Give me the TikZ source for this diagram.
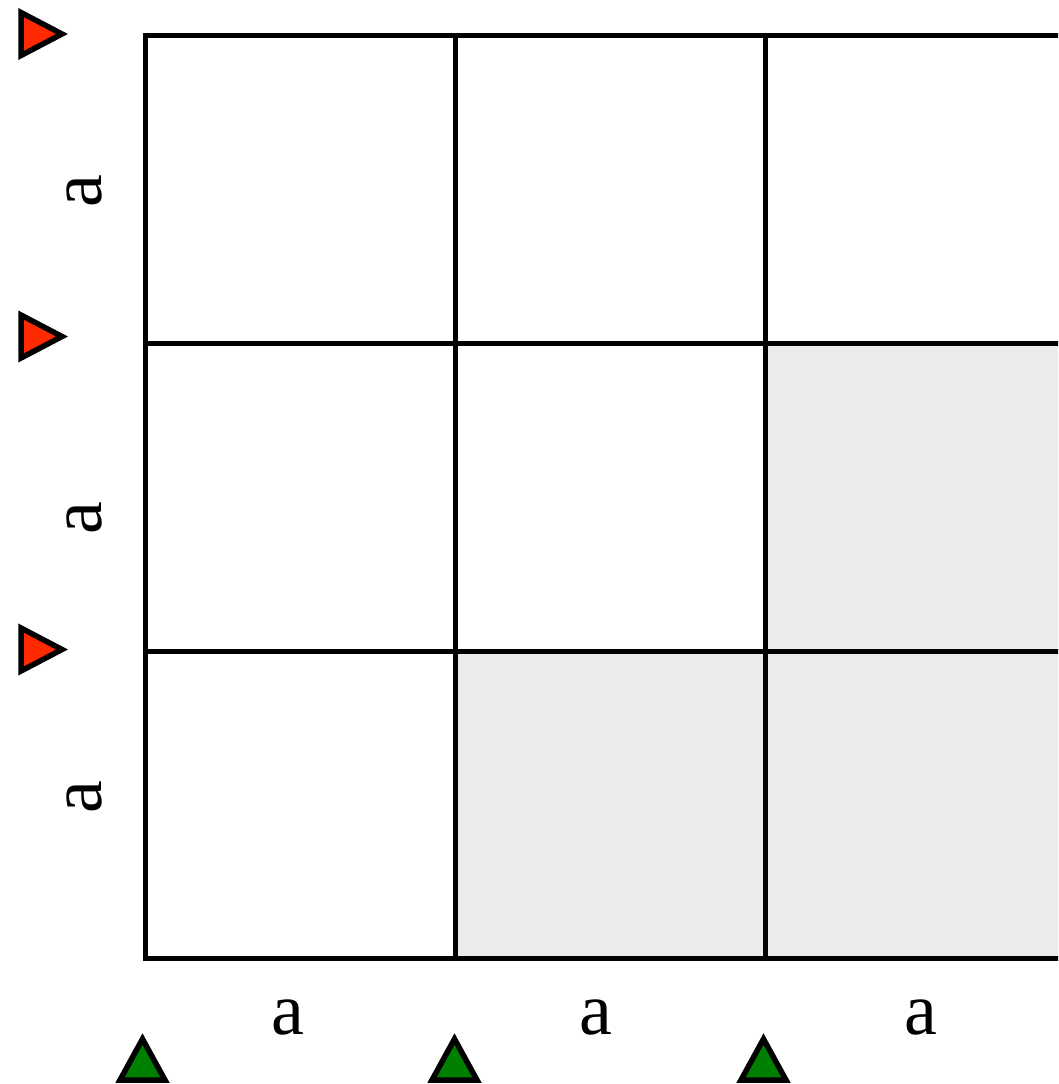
\documentclass[tikz,border=0pt]{standalone}
\usepackage{fontspec}
\setmainfont{Liberation Serif}
\definecolor{cellgray}{HTML}{EBEBEB}
\definecolor{markred}{HTML}{FF2A00}
\definecolor{markgreen}{HTML}{008000}
\begin{document}
\begin{tikzpicture}[x=1pt,y=-1pt,
  gridline/.style={line width=5pt, line cap=rect},
  redmark/.style={fill=markred, draw=black, line width=5.5pt},
  greenmark/.style={fill=markgreen, draw=black, line width=5.5pt},
  lbl/.style={inner sep=0pt, font=\fontsize{74}{80}\selectfont}]
\useasboundingbox (0,0) rectangle (1058,1084);
\clip (0,0) rectangle (1058,1084);
% shaded cells
\fill[cellgray] (765,343) rectangle (1080,651);
\fill[cellgray] (455,651) rectangle (1080,958);
% grid
\draw[gridline] (1080,35) -- (145,35) -- (145,958) -- (1080,958);
\draw[gridline] (455,35) -- (455,958);
\draw[gridline] (765,35) -- (765,958);
\draw[gridline] (145,343) -- (1080,343);
\draw[gridline] (145,651) -- (1080,651);
% red markers
\draw[redmark] (21,12.5) -- (62,34) -- (21,55.5) -- cycle;
\draw[redmark] (21,315) -- (62,336.5) -- (21,358) -- cycle;
\draw[redmark] (21,628) -- (62,649.5) -- (21,671) -- cycle;
% green markers
\draw[greenmark] (120,1080) -- (142.5,1039) -- (165,1080) -- cycle;
\draw[greenmark] (432,1080) -- (454.5,1039) -- (477,1080) -- cycle;
\draw[greenmark] (741,1080) -- (763.5,1039) -- (786,1080) -- cycle;
% labels
\node[lbl, rotate=90] (l1) at (84,191) {a};
\node[lbl, rotate=90] (l2) at (84,518) {a};
\node[lbl, rotate=90] (l3) at (84,797) {a};
\node[lbl] (b1) at (288,1017) {a};
\node[lbl] (b2) at (596,1017) {a};
\node[lbl] (b3) at (921,1017) {a};
\end{tikzpicture}
\end{document}
